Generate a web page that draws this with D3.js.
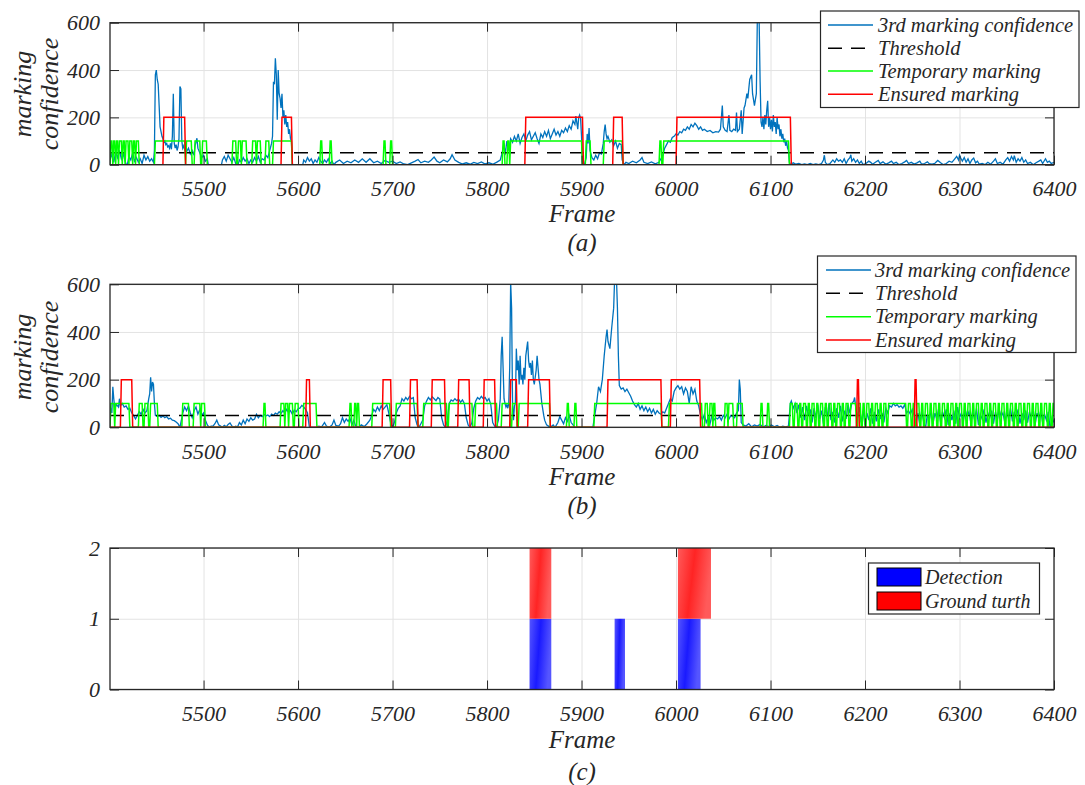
<!DOCTYPE html>
<html><head><meta charset="utf-8">
<script src="https://cdn.jsdelivr.net/npm/d3@7"></script>
<style>
body{margin:0;background:#fff}
svg{display:block}
</style>
</head><body><svg id="chart" width="1085" height="785"></svg>
<script>
// ---------------- DATA ----------------
const frameDomain = [5401, 6400];
const xTickValues = [5500, 5600, 5700, 5800, 5900, 6000, 6100, 6200, 6300, 6400];
const confTicks = [0, 200, 400, 600];
const barTicks = [0, 1, 2];
const threshold = 50;
const tempLevel = 100;
const ensuredLevel = 200;
const legendLabels = ["3rd marking confidence", "Threshold", "Temporary marking", "Ensured marking"];
const barLegendLabels = ["Detection", "Ground turth"];

// panel (a): 3rd marking confidence [frame, value]
const confA = [[5401,20],[5403,45],[5405,10],[5407,55],[5409,30],[5411,60],[5413,25],[5415,45],[5417,15],[5419,-8],[5421,35],[5423,20],[5425,50],[5427,15],[5429,30],[5431,10],[5433,25],[5435,5],[5437,40],[5439,20],[5441,35],[5443,15],[5445,25],[5447,10],
[5448,60],[5449,380],[5450,400],[5451,360],[5452,340],[5453,250],[5454,160],[5455,140],[5456,120],[5457,110],[5458,95],[5459,100],[5460,85],[5461,90],[5462,75],[5463,80],[5464,70],[5465,90],[5466,65],[5467,120],[5468,300],[5469,90],[5470,70],[5471,85],[5472,60],[5473,75],[5474,110],[5475,330],[5476,320],[5477,100],[5478,70],[5479,80],[5480,65],[5481,75],[5482,55],[5484,70],[5486,45],[5488,60],[5490,40],[5491,80],[5493,112],[5494,70],[5496,50],[5498,30],[5500,40],[5502,15],[5504,25],[5505,0],[5519,0],
[5520,20],[5522,35],[5524,15],[5526,40],[5528,25],[5530,10],[5532,30],[5534,5],[5536,-5],[5538,20],[5540,10],[5542,30],[5544,15],[5546,25],[5548,5],[5550,20],[5552,10],[5554,30],[5556,15],[5558,35],[5560,10],[5562,25],[5564,20],[5566,40],[5568,30],[5570,60],[5572,90],
[5573,120],[5574,350],[5575,340],[5576,450],[5577,380],[5578,190],[5579,400],[5580,300],[5581,280],[5582,240],[5583,300],[5584,200],[5585,230],[5586,170],[5587,210],[5588,160],[5589,180],[5590,130],[5591,150],[5592,110],[5593,100],[5594,0],[5605,0],
[5606,20],[5608,10],[5610,30],[5612,15],[5614,25],[5616,5],[5618,20],[5620,10],[5622,30],[5624,15],[5626,5],[5628,20],[5630,10],[5632,25],[5634,5],[5636,15],[5638,0],
[5640,10],[5644,20],[5648,5],[5652,15],[5656,8],[5660,20],[5664,10],[5668,25],[5672,10],[5676,25],[5680,8],[5684,15],[5688,5],[5692,18],[5696,10],[5700,15],[5704,5],[5708,12],[5712,3],[5716,0],[5720,8],[5724,15],[5727,22],[5730,8],[5734,15],[5738,10],[5741,20],[5744,32],[5747,15],[5750,8],[5754,20],[5758,12],[5761,25],[5763,42],[5766,20],[5770,10],[5774,3],[5778,8],[5782,2],[5786,10],[5790,5],[5794,12],[5798,3],[5802,8],[5806,2],[5810,10],[5814,20],
[5816,50],[5818,90],[5819,40],[5821,100],[5823,60],[5825,110],[5827,95],[5829,120],[5831,100],[5833,130],[5835,90],[5837,115],[5839,130],[5841,100],[5843,125],[5845,140],[5847,105],[5849,120],[5851,135],[5853,110],[5855,90],[5857,130],[5859,115],[5861,140],[5863,120],[5865,145],[5867,110],[5869,130],[5871,150],[5873,125],[5875,140],[5877,120],[5879,145],[5881,135],[5883,155],[5885,140],[5887,165],[5889,150],[5891,185],[5893,170],[5894,205],[5896,150],[5897,200],[5898,210],[5899,195],[5900,120],[5901,10],[5903,0],[5905,30],[5906,130],[5907,90],[5908,155],[5909,60],[5911,30],[5913,20],[5915,40],[5917,25],[5919,50],[5921,45],[5923,90],[5924,140],[5925,170],[5926,130],[5927,110],[5928,120],[5930,95],[5932,105],[5934,80],[5936,100],[5938,70],[5940,90],[5942,85],[5943,20],[5945,0],
[5947,10],[5950,5],[5954,15],[5958,8],[5962,20],[5964,30],[5966,10],[5970,5],[5974,12],[5978,4],[5982,10],[5984,25],[5986,40],[5988,70],[5990,85],[5992,100],[5994,95],[5996,115],[5998,120],[6000,130],[6002,125],[6004,140],[6006,135],[6008,150],[6010,145],[6012,160],[6014,150],[6016,170],[6018,160],[6020,175],[6022,165],[6024,150],[6026,160],[6028,145],[6030,150],[6033,140],[6036,145],[6039,135],[6042,140],[6045,138],[6047,150],[6049,250],[6050,160],[6052,145],[6054,140],[6056,210],[6057,145],[6059,140],[6061,150],[6063,145],[6064,220],[6065,140],[6067,150],[6069,230],[6070,130],[6072,240],[6073,250],[6075,300],[6076,280],[6078,360],[6080,380],[6081,300],[6083,250],[6085,300],[6086,600],[6087,610],[6088,600],[6089,350],[6090,180],[6091,160],[6092,200],[6093,150],[6094,210],[6095,170],[6096,230],[6097,270],[6098,160],[6099,200],[6100,150],[6101,190],[6102,140],[6103,210],[6104,160],[6105,180],[6106,130],[6107,200],[6108,150],[6109,170],[6110,120],[6111,150],[6112,110],[6113,130],[6114,95],[6115,110],[6116,80],[6117,100],[6118,70],[6119,60],[6120,10],[6121,0],
[6124,8],[6127,2],[6130,5],[6133,0],[6136,3],[6139,0],[6142,5],[6145,0],[6148,3],[6151,0],[6154,5],[6156,20],[6157,40],[6158,10],[6160,0],[6163,5],[6166,20],[6168,10],[6170,25],[6172,15],[6174,20],[6176,10],[6178,25],[6180,5],[6182,20],[6184,30],[6185,42],[6186,15],[6188,25],[6190,10],[6192,20],[6194,5],[6196,15],[6198,0],[6201,5],[6204,15],[6206,10],[6208,2],[6211,10],[6214,18],[6216,5],[6219,12],[6222,2],[6225,8],[6228,15],[6230,5],[6233,10],[6236,0],[6239,5],[6242,12],[6244,18],[6246,5],[6249,10],[6252,3],[6255,8],[6258,15],[6260,2],[6263,5],[6266,12],[6268,4],[6271,2],[6274,6],[6277,18],[6280,8],[6283,0],[6286,5],[6289,15],[6292,10],[6295,25],[6297,35],[6299,20],[6300,40],[6301,30],[6303,15],[6305,30],[6307,10],[6309,25],[6311,5],[6313,20],[6315,28],[6317,8],[6319,15],[6321,2],[6324,5],[6327,0],[6330,10],[6333,2],[6336,15],[6338,25],[6340,5],[6343,10],[6346,2],[6349,20],[6351,30],[6353,15],[6355,35],[6357,20],[6358,38],[6360,10],[6362,25],[6364,15],[6366,30],[6368,10],[6370,20],[6372,5],[6375,10],[6378,0],[6381,8],[6384,15],[6386,20],[6388,5],[6391,25],[6393,10],[6395,15],[6397,5],[6400,10]];

// panel (a): temporary marking intervals [start, end] at level 100
const tempA = [[5402,5403],[5405,5406],[5408,5409],[5411,5413],[5415,5416],[5418,5420],[5422,5424],[5426,5427],[5429,5431],[5449,5480],[5482,5487],[5491,5496],[5499,5503],[5531,5534],[5537,5539],[5541,5545],[5552,5555],[5557,5560],[5566,5569],[5574,5593],[5624,5625],[5634,5635],[5691,5692],[5698,5699],[5817,5818],[5822,5823],[5825,5900],[5905,5909],[5924,5943],[5983,5984],[5987,6119]];
// panel (a): ensured marking intervals at level 200
const ensuredA = [[5458,5480],[5583,5593],[5841,5901],[5934,5943],[6001,6121]];

// panel (b): 3rd marking confidence
const confB = [[5401,90],[5403,60],[5404,170],[5405,120],[5406,80],[5408,95],[5410,85],[5411,120],[5412,90],[5414,100],[5416,85],[5418,90],[5420,75],[5422,80],[5424,60],[5426,50],[5428,35],[5430,50],[5432,65],[5434,55],[5436,75],[5438,60],[5440,70],[5442,120],[5443,140],[5444,210],[5445,150],[5446,190],[5447,180],[5448,100],[5449,50],[5451,45],[5453,50],[5455,42],[5457,48],[5459,40],[5461,45],[5463,35],[5465,38],[5467,30],[5469,28],[5471,22],[5473,15],[5475,0],[5477,40],[5478,60],[5480,85],[5482,70],[5484,90],[5486,60],[5488,40],[5490,70],[5492,85],[5494,55],[5496,75],[5498,50],[5500,60],[5502,30],[5504,10],[5506,0],[5508,5],
[5510,5],[5512,15],[5514,30],[5516,10],[5518,5],[5520,0],[5522,8],[5524,2],[5526,12],[5528,18],[5530,5],[5532,0],[5534,5],[5536,2],[5538,20],[5540,10],[5542,30],[5544,15],[5546,35],[5548,25],[5550,40],[5552,30],[5554,35],[5556,55],[5558,40],[5560,50],[5562,45],[5564,55],[5566,48],[5568,52],[5570,45],[5572,55],[5574,50],[5576,60],[5578,55],[5580,65],[5582,58],[5584,70],[5586,60],[5588,75],[5590,62],[5592,70],[5594,55],[5596,72],[5598,65],[5600,78],[5602,80],[5604,92],[5606,85],[5608,75],[5610,60],[5612,0],[5620,0],[5622,5],[5625,2],[5628,20],[5630,5],[5633,0],[5636,10],[5638,30],[5640,8],[5643,5],[5645,15],[5647,40],[5649,20],[5651,35],[5653,25],[5655,38],[5657,10],[5659,30],[5661,5],[5664,0],[5667,10],[5670,3],[5673,15],[5676,30],[5678,50],[5680,75],[5682,65],[5684,85],[5686,70],[5688,90],[5690,75],[5692,85],[5694,95],[5696,60],[5698,20],[5700,0],[5702,20],[5704,60],[5706,80],[5708,90],[5710,120],[5712,110],[5714,125],[5716,115],[5718,130],[5720,120],[5722,125],[5724,40],[5726,10],[5728,0],[5730,15],[5732,30],[5734,90],[5736,110],[5738,125],[5740,115],[5742,128],[5744,120],[5746,112],[5748,125],[5750,118],[5752,40],[5754,10],[5756,0],[5758,30],[5760,100],[5762,115],[5764,110],[5766,120],[5768,112],[5770,118],[5772,105],[5774,115],[5776,100],[5778,40],[5780,10],[5782,0],[5784,20],[5786,80],[5788,110],[5790,125],[5792,118],[5794,130],[5796,120],[5798,125],[5800,110],[5802,120],[5804,95],[5806,20],[5808,5],[5810,0],[5812,30],[5814,120],[5815,300],[5816,380],[5817,250],[5818,120],[5819,100],[5820,85],[5821,95],[5822,80],[5823,100],[5824,250],[5825,610],[5826,500],[5827,100],[5828,30],[5829,90],[5830,100],[5831,330],[5832,240],[5833,280],[5834,180],[5835,300],[5836,200],[5837,220],[5838,180],[5839,250],[5840,200],[5841,300],[5842,330],[5843,360],[5844,280],[5845,250],[5846,270],[5847,220],[5848,280],[5849,200],[5850,180],[5851,210],[5852,240],[5853,300],[5854,250],[5855,200],[5856,180],[5857,140],[5858,100],[5860,50],[5861,30],[5863,10],[5865,5],[5867,0],[5870,10],[5872,0],[5875,20],[5877,45],[5879,30],[5881,15],[5883,40],[5885,25],[5887,50],[5889,20],[5891,10],[5893,0],[5912,0],[5914,50],[5916,100],[5918,170],[5920,150],[5922,200],[5924,300],[5926,380],[5927,410],[5928,360],[5930,330],[5932,420],[5934,500],[5935,620],[5937,620],[5938,500],[5939,300],[5940,175],[5942,160],[5944,165],[5946,150],[5948,160],[5950,145],[5952,130],[5954,110],[5956,95],[5958,85],[5960,100],[5962,75],[5964,90],[5966,70],[5968,85],[5970,65],[5972,80],[5974,60],[5976,75],[5978,55],[5980,70],[5982,60],[5984,55],[5986,65],[5988,60],[5990,80],[5992,100],[5994,120],[5996,110],[5998,150],[6000,165],[6002,175],[6004,160],[6006,170],[6008,140],[6010,165],[6012,150],[6014,100],[6016,170],[6018,140],[6020,160],[6022,110],[6024,90],[6026,50],[6028,30],[6030,55],[6032,20],[6034,40],[6036,15],[6038,50],[6040,30],[6042,40],[6044,35],[6046,45],[6048,30],[6050,50],[6052,40],[6054,55],[6056,35],[6058,50],[6060,45],[6062,40],[6064,60],[6066,70],[6067,200],[6068,160],[6069,20],[6071,10],[6074,5],[6077,15],[6080,2],[6083,10],[6086,5],[6089,12],[6092,0],[6095,8],[6098,3],[6101,10],[6104,2],[6107,8],[6110,0],[6113,5],[6116,2],[6119,5],[6121,100],[6122,110],[6124,80],[6126,100],[6128,60],[6130,95],[6132,40],[6134,85],
[6136,30],[6138,90],[6140,50],[6142,75],[6144,20],[6146,80],[6148,40],[6150,95],[6152,35],[6154,70],[6156,15],[6158,85],[6160,45],[6162,100],[6164,30],[6166,65],[6168,20],[6170,80],[6172,40],[6174,90],[6176,25],[6178,70],[6180,35],[6182,95],[6184,60],[6186,100],[6188,110],[6189,125],[6190,90],[6192,40],[6194,85],[6196,20],[6198,70],[6200,10],[6202,60],[6204,30],[6206,80],[6208,15],[6210,65],[6212,25],[6214,75],[6216,35],[6218,60],[6220,20],[6222,80],[6224,60],[6226,90],[6228,85],[6230,100],[6232,90],[6234,95],[6236,85],[6238,90],[6240,80],[6242,95],[6244,60],[6246,70],[6248,55],[6250,75],[6252,50],[6254,20],[6256,60],[6258,10],[6260,70],[6262,25],[6264,-5],[6266,55],[6268,30],[6270,70],[6272,15],[6274,60],[6276,35],[6278,80],[6280,20],[6282,65],[6284,40],[6286,75],[6288,10],[6290,60],[6292,30],[6294,70],[6296,15],[6298,85],[6300,40],[6302,60],[6304,25],[6306,75],[6308,45],[6310,65],[6312,20],[6314,70],[6316,30],[6318,80],[6320,10],[6322,55],[6324,35],[6326,75],[6328,20],[6330,60],[6332,40],[6334,70],[6336,15],[6338,65],[6340,30],[6342,75],[6344,45],[6346,60],[6348,20],[6350,70],[6352,35],[6354,80],[6356,25],[6358,65],[6360,40],[6362,75],[6364,15],[6366,60],[6368,30],[6370,70],[6372,20],[6374,65],[6376,40],[6378,75],[6380,10],[6382,60],[6384,35],[6386,70],[6388,20],[6390,55],[6392,30],[6394,65],[6396,-10],[6398,40],[6400,20]];

const tempB = [[5402,5405],[5407,5421],[5432,5435],[5438,5441],[5444,5451],[5478,5484],[5490,5496],[5498,5501],[5564,5565],[5582,5585],[5587,5589],[5591,5594],[5597,5600],[5606,5619],[5655,5656],[5660,5661],[5663,5664],[5679,5697],[5704,5726],[5733,5757],[5760,5784],[5788,5810],[5816,5824],[5827,5831],[5834,5866],[5885,5886],[5893,5894],[5914,5984],[5993,6027],[6031,6033],[6036,6038],[6040,6041],[6052,6054],[6056,6060],[6065,6070],[6090,6091],[6097,6098],
[6121,6123],[6126,6128],[6131,6132],[6135,6137],[6140,6141],[6144,6146],[6149,6150],[6153,6155],[6158,6159],[6162,6164],[6167,6168],[6171,6173],[6176,6177],[6180,6182],[6185,6190],[6193,6195],[6198,6199],[6202,6204],[6207,6208],[6211,6213],[6216,6217],[6220,6222],[6225,6243],[6246,6248],[6251,6252],[6255,6257],[6260,6261],[6264,6266],[6269,6270],[6273,6275],[6278,6279],[6282,6284],[6287,6288],[6291,6293],[6296,6297],[6300,6302],[6305,6306],[6309,6311],[6314,6315],[6318,6320],[6323,6324],[6327,6329],[6332,6333],[6336,6338],[6341,6342],[6345,6347],[6350,6351],[6354,6356],[6359,6360],[6363,6365],[6368,6369],[6372,6374],[6377,6378],[6381,6383],[6386,6387],[6390,6392],[6395,6396],[6399,6400]];
const ensuredB = [[5413,5424],[5609,5612],[5690,5698],[5719,5726],[5742,5755],[5770,5781],[5797,5808],[5825,5831],[5844,5866],[5928,5984],[5995,6025],[6192,6193],[6253,6254]];

// panel (c): bars [start, end]
const detection = [[5845,5868],[5935,5946],[6002,6026]];
const groundTruth = [[5845,5868],[6002,6037]];

// ---------------- DRAW ----------------
const FONT = "Liberation Serif";
const svg = d3.select("#chart");
const x = d3.scaleLinear().domain(frameDomain).range([110, 1054]);
const axisColor = "#262626", gridColor = "#e3e3e3";

const defs = svg.append("defs");
function grad(id, edge, mid) {
  const g = defs.append("linearGradient").attr("id", id).attr("x1", 0).attr("y1", 0).attr("x2", 1).attr("y2", 0.25);
  g.append("stop").attr("offset", "0%").attr("stop-color", edge);
  g.append("stop").attr("offset", "50%").attr("stop-color", mid);
  g.append("stop").attr("offset", "100%").attr("stop-color", edge);
}
grad("gBlue", "#5555ff", "#1a1aff");
grad("gRed", "#ff5a5a", "#ff2424");

function stepPoints(intervals, level) {
  const pts = [[frameDomain[0], 0]];
  intervals.forEach(([s, e]) => { pts.push([s - 1, 0], [s, level], [e, level], [e + 1, 0]); });
  pts.push([frameDomain[1], 0]);
  return pts;
}

function frame(id, top, bottom, yDomain, yTicks) {
  const y = d3.scaleLinear().domain(yDomain).range([bottom, top]);
  const g = svg.append("g");
  defs.append("clipPath").attr("id", "clip" + id).append("rect")
    .attr("x", 110).attr("y", top).attr("width", 944).attr("height", bottom - top);
  const gx = g.append("g").attr("transform", `translate(0,${bottom})`)
    .call(d3.axisBottom(x).tickValues(xTickValues).tickSize(-(bottom - top)).tickFormat(""));
  gx.select(".domain").remove();
  gx.selectAll("line").attr("stroke", gridColor).attr("stroke-width", 1);
  const gy = g.append("g").attr("transform", "translate(110,0)")
    .call(d3.axisLeft(y).tickValues(yTicks).tickSize(-944).tickFormat(""));
  gy.select(".domain").remove();
  gy.selectAll("line").attr("stroke", gridColor).attr("stroke-width", 1);
  const plot = g.append("g").attr("clip-path", `url(#clip${id})`);
  return {y, g, plot, top, bottom};
}

function axesOverlay(p, yTicks, fontSize) {
  const {g, y, top, bottom} = p;
  const mk = (sel) => { sel.select(".domain").remove(); sel.selectAll("line").attr("stroke", axisColor).attr("stroke-width", 1); sel.selectAll("text").remove(); };
  mk(g.append("g").attr("transform", `translate(0,${bottom})`).call(d3.axisBottom(x).tickValues(xTickValues).tickSize(-9)));
  mk(g.append("g").attr("transform", `translate(0,${top})`).call(d3.axisTop(x).tickValues(xTickValues).tickSize(-9)));
  mk(g.append("g").attr("transform", "translate(110,0)").call(d3.axisLeft(y).tickValues(yTicks).tickSize(-9)));
  mk(g.append("g").attr("transform", "translate(1054,0)").call(d3.axisRight(y).tickValues(yTicks).tickSize(-9)));
  g.append("rect").attr("x", 110).attr("y", top).attr("width", 944).attr("height", bottom - top)
    .attr("fill", "none").attr("stroke", axisColor).attr("stroke-width", 1.3);
  const lx = g.append("g").attr("transform", `translate(0,${bottom})`)
    .call(d3.axisBottom(x).tickValues(xTickValues).tickSize(0).tickPadding(16).tickFormat(d3.format("d")));
  lx.select(".domain").remove();
  lx.attr("font-family", FONT).attr("font-size", fontSize);
  const ly = g.append("g").attr("transform", "translate(110,0)")
    .call(d3.axisLeft(y).tickValues(yTicks).tickSize(0).tickPadding(10).tickFormat(d3.format("d")));
  ly.select(".domain").remove();
  ly.attr("font-family", FONT).attr("font-size", fontSize);
}

function captions(frameY, capY, letter) {
  svg.append("text").attr("x", 582).attr("y", frameY).attr("text-anchor", "middle").attr("font-size", 25).text("Frame");
  svg.append("text").attr("x", 582).attr("y", capY).attr("text-anchor", "middle").attr("font-size", 25).text(`(${letter})`);
}
function ylabel(cy) {
  const t = svg.append("g").attr("transform", `translate(0,${cy}) rotate(-90)`);
  t.append("text").attr("x", 0).attr("y", 31).attr("text-anchor", "middle").attr("font-size", 26).text("marking");
  t.append("text").attr("x", 0).attr("y", 58).attr("text-anchor", "middle").attr("font-size", 26).text("confidence");
}

function linePanel(id, top, bottom, conf, temp, ensured, L) {
  const p = frame(id, top, bottom, [0, 600], confTicks);
  const line = d3.line().x(d => x(d[0])).y(d => p.y(d[1]));
  p.plot.append("path").datum(conf).attr("d", line).attr("fill", "none").attr("stroke", "#0072BD").attr("stroke-width", 1.3);
  p.plot.append("path").datum([[frameDomain[0], threshold], [frameDomain[1], threshold]]).attr("d", line)
    .attr("fill", "none").attr("stroke", "#000").attr("stroke-width", 1.5).attr("stroke-dasharray", "14,9");
  p.plot.append("path").datum(stepPoints(temp, tempLevel)).attr("d", line).attr("fill", "none").attr("stroke", "#00ff00").attr("stroke-width", 1.5);
  p.plot.append("path").datum(stepPoints(ensured, ensuredLevel)).attr("d", line).attr("fill", "none").attr("stroke", "#ff0000").attr("stroke-width", 1.5);
  axesOverlay(p, confTicks, 22);
  const lg = svg.append("g");
  lg.append("rect").attr("x", L.x).attr("y", L.y).attr("width", L.w).attr("height", L.h)
    .attr("fill", "#fff").attr("stroke", axisColor).attr("stroke-width", 1.2);
  const styles = [{c:"#0072BD", d:null},{c:"#000", d:"14,9"},{c:"#00ff00", d:null},{c:"#ff0000", d:null}];
  legendLabels.forEach((lab, i) => {
    const cy = L.rows[i];
    lg.append("line").attr("x1", L.lx1).attr("x2", L.lx2).attr("y1", cy).attr("y2", cy)
      .attr("stroke", styles[i].c).attr("stroke-width", 1.5).attr("stroke-dasharray", styles[i].d);
    lg.append("text").attr("x", L.tx).attr("y", cy).attr("dy", "0.33em").attr("font-size", 20.5).text(lab);
  });
}

linePanel("a", 22.7, 164.7, confA, tempA, ensuredA,
  {x: 820.5, y: 11, w: 258.5, h: 96.5, rows: [25, 48.3, 71, 94.3], lx1: 828, lx2: 873, tx: 878});
ylabel(94);
captions(222, 251, "a");

linePanel("b", 284.3, 427.3, confB, tempB, ensuredB,
  {x: 817.5, y: 256, w: 258.5, h: 96.5, rows: [270, 293.3, 316.7, 340], lx1: 826, lx2: 871, tx: 875});
ylabel(357);
captions(485, 514, "b");

const pc = frame("c", 548, 689.5, [0, 2], barTicks);
pc.plot.selectAll("rect.det").data(detection).enter().append("rect")
  .attr("x", d => x(d[0])).attr("width", d => x(d[1]) - x(d[0]))
  .attr("y", pc.y(1)).attr("height", pc.y(0) - pc.y(1)).attr("fill", "url(#gBlue)");
pc.plot.selectAll("rect.gt").data(groundTruth).enter().append("rect")
  .attr("x", d => x(d[0])).attr("width", d => x(d[1]) - x(d[0]))
  .attr("y", pc.y(2)).attr("height", pc.y(1) - pc.y(2)).attr("fill", "url(#gRed)");
axesOverlay(pc, barTicks, 22);
captions(748, 780, "c");
const lc = svg.append("g");
lc.append("rect").attr("x", 868.5).attr("y", 563).attr("width", 171).attr("height", 51)
  .attr("fill", "#fff").attr("stroke", axisColor).attr("stroke-width", 1.2);
const barColors = ["#0000ff", "#ff0000"];
barLegendLabels.forEach((lab, i) => {
  const ry = 568 + i * 24;
  lc.append("rect").attr("x", 877).attr("y", ry).attr("width", 44).attr("height", 18)
    .attr("fill", barColors[i]).attr("stroke", "#000").attr("stroke-width", 1);
  lc.append("text").attr("x", 925).attr("y", ry + 9).attr("dy", "0.33em").attr("font-size", 20).text(lab);
});

// serif italic for every text
svg.selectAll("text").attr("font-family", FONT).attr("font-style", "italic").attr("fill", axisColor);
</script>
</body></html>
